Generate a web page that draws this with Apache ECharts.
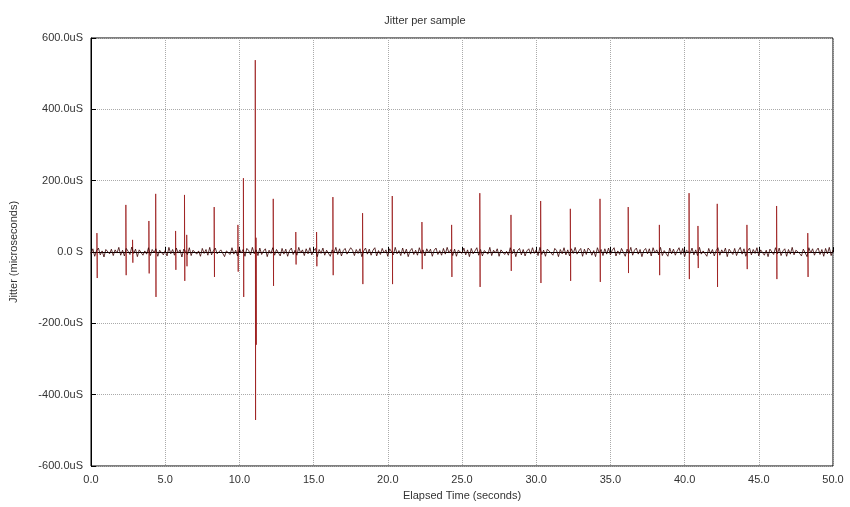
<!DOCTYPE html>
<html>
<head>
<meta charset="utf-8">
<script src="https://cdn.jsdelivr.net/npm/echarts@6/dist/echarts.min.js"></script>
<style>html,body{margin:0;padding:0;background:#fff}#chart{width:850px;height:507px}</style>
</head>
<body>
<div id="chart"></div>
<script>
// baseline jitter, one reading every 0.125 s (uS)
const baseStep = 0.125
const baseJitter = [
  -6, 9, -12, 4, 11, -8, 3, -14, 7, 12, -5, 8, -10, 6, -3, 13, -9, 5, -11, 10,
  2, -7, 14, -4, 8, -13, 6, 11, -9, 3, -6, 12, -10, 7, -2, 9, -12, 5, 10, -8,
  4, -11, 13, -5, 7, -9, 11, -3, 6, -14, 8, 2, -7, 12, -10, 5, 9, -6, 3, -12,
  10, -4, 7, -9, 13, -8, 4, 11, -5, -10, 6, 9, -13, 3, 8, -7, 12, -6, 5, -11,
  9, -3, 7, -12, 10, 4, -8, 13, -5, 6, -10, 11, -7, 3, 9, -13, 5, -4, 12, -9,
  7, 2, -11, 10, -6, 8, -12, 4, 11, -7, 5, -9, 13, -3, 6, -10, 9, -5, 12, -8,
  3, 10, -13, 7, -4, 11, -9, 5, 8, -12, 6, -3, 13, -7, 9, -11, 4, 10, -6, -8,
  12, 5, -10, 7, -4, 9, -13, 3, 11, -6, 8, -9, 5, 12, -11, 4, -7, 10, -3, 6,
  -12, 9, 7, -8, 13, -5, 4, -10, 11, -6, 8, -13, 3, 10, -7, 5, -9, 12, -4, 6,
  -11, 9, -2, 8, -12, 5, 11, -7, 4, -9, 10, -6, 13, -3, 7, -10, 8, -12, 5, 9,
  -4, 11, -8, 6, -13, 10, -5, 3, 12, -9, 7, -11, 4, 8, -6, 13, -10, 5, -3, 9,
  -12, 6, 11, -7, 2, -9, 12, -5, 8, -13, 4, 10, -8, 7, -11, 3, 9, -6, 12, -4,
  6, -10, 13, -7, 5, -12, 8, 11, -3, -9, 10, 4, -13, 7, -5, 12, -8, 6, -11, 9,
  -4, 13, -6, 3, 10, -12, 8, -7, 11, 5, -9, 4, -13, 12, -3, 7, -10, 9, -6, 11,
  -8, 5, 12, -11, 3, -7, 10, 6, -12, 8, -4, 13, -9, 5, 11, -6, 7, -13, 4, 10,
  -5, 9, -11, 12, -3, 6, -8, 13, -10, 4, 7, -12, 11, -5, 8, -9, 3, 12, -7, 10,
  -13, 5, 9, -4, 11, -8, 6, -10, 13, -6, 3, 8, -12, 10, -5, 7, -11, 4, 12, -9,
  6, -3, 11, -13, 8, 5, -7, 10, -10, 4, 13, -6, 9, -12, 3, 11, -8, 7, -4, 12,
  -11, 6, 10, -9, 5, -13, 8, 4, -7, 12, -5, 11, -10, 3, 9, -12, 7, -6, 13, -8,
  5, 10, -4, -11, 8, 6, -13, 12, -3, 9, -9, 4, 11, -7, 7, -12, 10, -5, 13, -10,
  6
]
// spikes: time (s), high (uS), low (uS)
const spikeTime = [0.4, 2.35, 2.8, 3.9, 4.36, 5.7, 6.3, 6.45, 8.3, 9.9, 10.27, 11.07, 11.12, 12.28, 13.8, 15.2,
  16.3, 18.3, 20.3, 22.3, 24.3, 26.2, 28.3, 30.3, 32.3, 34.3, 36.2, 38.3, 40.3, 40.9, 42.2, 44.2, 46.2, 48.3]
const spikeHigh = [53, 132, 34, 87, 163, 59, 160, 48, 126, 76, 207, 538, 40, 149, 56, 56,
  154, 109, 157, 84, 76, 165, 104, 143, 121, 149, 126, 76, 165, 73, 135, 76, 129, 53]
const spikeLow = [-73, -65, -30, -60, -126, -50, -81, -40, -70, -55, -126, -471, -260, -95, -35, -40,
  -65, -90, -90, -48, -70, -98, -53, -87, -81, -84, -59, -65, -76, -45, -98, -48, -76, -70]

const noise = baseJitter.map((v, i) => [i * baseStep, v])
const spikes = []
spikeTime.forEach((t, i) => {
  spikes.push([t, 0], [t, spikeHigh[i]], [t + 0.02, spikeLow[i]], [t + 0.02, 0], [t, null])
})

const chart = echarts.init(document.getElementById('chart'))
const lbl = { color: '#333', fontSize: 11, fontFamily: 'Liberation Sans' }
const grid = { lineStyle: { type: 'dotted', color: '#aaa' } }
chart.setOption({
  animation: false,
  title: { text: 'Jitter per sample', left: 'center', top: 10, textStyle: { fontSize: 11, fontWeight: 'normal', color: '#333', fontFamily: 'Liberation Sans' } },
  grid: { left: 88, right: 17, top: 38, bottom: 41, show: true, borderColor: '#000', borderWidth: 1 },
  xAxis: {
    type: 'value', min: 0, max: 50, interval: 5,
    name: 'Elapsed Time (seconds)', nameLocation: 'middle', nameGap: 24, nameTextStyle: lbl,
    axisLabel: { ...lbl, formatter: v => v.toFixed(1) },
    axisLine: { lineStyle: { color: '#000' } }, axisTick: { inside: true, lineStyle: { color: '#000' } },
    splitLine: grid
  },
  yAxis: {
    type: 'value', min: -600, max: 600, interval: 200,
    name: 'Jitter (microseconds)', nameLocation: 'middle', nameGap: 72, nameTextStyle: lbl,
    axisLabel: { ...lbl, formatter: v => v === 0 ? '0.0 S' : v.toFixed(1) + 'uS' },
    axisLine: { show: true, lineStyle: { color: '#000' } }, axisTick: { show: true, inside: true, lineStyle: { color: '#000' } },
    splitLine: grid
  },
  series: [
    { type: 'line', data: spikes, symbol: 'none', connectNulls: false, lineStyle: { color: '#9a1a1a', width: 0.8 } },
    { type: 'line', data: noise, symbol: 'none', lineStyle: { color: '#3a0000', width: 0.8 } }
  ]
})
</script>
</body>
</html>
